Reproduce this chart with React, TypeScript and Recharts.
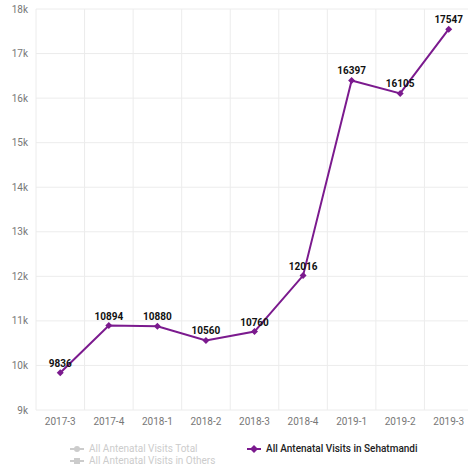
import {
  LineChart,
  Line,
  XAxis,
  YAxis,
  CartesianGrid,
  LabelList,
} from "recharts";

const quarters = [
  "2017-3",
  "2017-4",
  "2018-1",
  "2018-2",
  "2018-3",
  "2018-4",
  "2019-1",
  "2019-2",
  "2019-3",
];
const sehatmandi = [9836, 10894, 10880, 10560, 10760, 12016, 16397, 16105, 17547];
const yTicks = [9000, 10000, 11000, 12000, 13000, 14000, 15000, 16000, 17000, 18000];
const seriesNames = [
  "All Antenatal Visits Total",
  "All Antenatal Visits in Others",
  "All Antenatal Visits in Sehatmandi",
];

const PURPLE = "#7b1a8e";
const FONT = "Roboto, 'Noto Sans', sans-serif";

const data = quarters.map((q, i) => ({ name: q, sehatmandi: sehatmandi[i] }));

function Diamond(props: any) {
  const { cx, cy } = props;
  if (cx == null || cy == null) return null;
  const r = 3.5;
  return (
    <polygon
      points={`${cx},${cy - r} ${cx + r},${cy} ${cx},${cy + r} ${cx - r},${cy}`}
      fill={PURPLE}
    />
  );
}

function LegendIcon({ shape, color }: { shape: string; color: string }) {
  return (
    <svg width={14} height={8} style={{ marginRight: 5 }}>
      <line x1={0} y1={4} x2={14} y2={4} stroke={color} strokeWidth={2} />
      {shape === "circle" && <circle cx={7} cy={4} r={3} fill={color} />}
      {shape === "square" && <rect x={4} y={1} width={6} height={6} fill={color} />}
      {shape === "diamond" && <polygon points="7,0 11,4 7,8 3,4" fill={color} />}
    </svg>
  );
}

function LegendItem({ name, shape, active, x, y }: any) {
  return (
    <div
      style={{
        position: "absolute",
        left: x,
        top: y,
        display: "flex",
        alignItems: "center",
        fontFamily: FONT,
        fontSize: 10,
        fontWeight: active ? 500 : 400,
        color: active ? "#222" : "#ccc",
        whiteSpace: "nowrap",
      }}
    >
      <LegendIcon shape={shape} color={active ? PURPLE : "#ccc"} />
      {name}
    </div>
  );
}

export default function App() {
  return (
    <div
      style={{
        position: "absolute",
        left: 0,
        top: 0,
        width: 468,
        height: 470,
        overflow: "hidden",
        background: "#fff",
      }}
    >
      <LineChart
        width={480}
        height={440}
        data={data}
        margin={{ top: 9, right: 7, bottom: 10, left: 6 }}
      >
        <CartesianGrid
          stroke="#ececec"
          verticalCoordinatesGenerator={({ offset }: any) =>
            quarters.map((_, i) => offset.left + (i * offset.width) / quarters.length)
          }
        />
        <XAxis
          dataKey="name"
          scale="band"
          axisLine={false}
          tickLine={false}
          height={20}
          interval={0}
          tick={{ fontSize: 10, fill: "#777", fontFamily: FONT }}
        />
        <YAxis
          width={30}
          domain={[9000, 18000]}
          ticks={yTicks}
          axisLine={false}
          tickLine={false}
          tickFormatter={(v: number) => `${v / 1000}k`}
          tick={{ fontSize: 10, fill: "#777", fontFamily: FONT }}
        />
        <Line
          dataKey="sehatmandi"
          name={seriesNames[2]}
          stroke={PURPLE}
          strokeWidth={2}
          dot={<Diamond />}
          activeDot={false}
          isAnimationActive={false}
        >
          <LabelList
            dataKey="sehatmandi"
            position="top"
            offset={6}
            style={{ fontSize: 10, fontWeight: 700, fill: "#111", fontFamily: FONT }}
          />
        </Line>
      </LineChart>
      <LegendItem name={seriesNames[0]} shape="circle" active={false} x={70} y={443} />
      <LegendItem name={seriesNames[1]} shape="square" active={false} x={70} y={455} />
      <LegendItem name={seriesNames[2]} shape="diamond" active x={247} y={443} />
    </div>
  );
}
